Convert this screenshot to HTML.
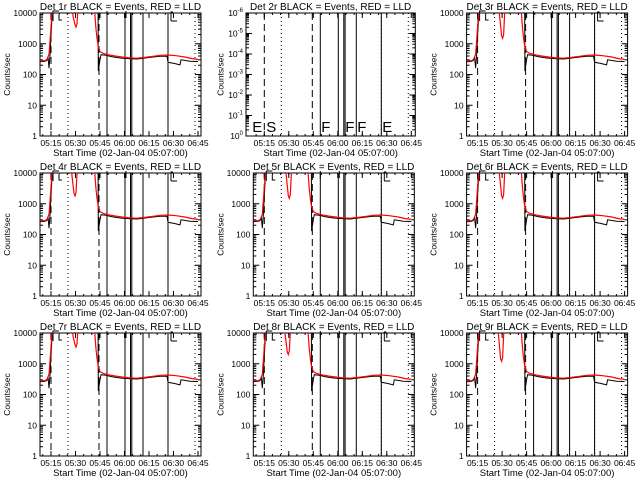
<!DOCTYPE html>
<html><head><meta charset="utf-8"><style>
html,body{margin:0;padding:0;background:#fff;width:640px;height:480px;overflow:hidden}
svg{display:block}
text{font-family:"Liberation Sans",sans-serif;fill:#000}
</style></head><body>
<svg id="s" width="640" height="480" xmlns="http://www.w3.org/2000/svg"></svg>
<script>
const S=document.getElementById('s');let h='';
const dips=[[36,3500],null,[36,1500],[35,1800],[36,1500],[36,1500],[36,3500],[35,2000],[35,1200]];
const vlines=[[11,'d'],[28,'o'],[59,'d'],[67,'s'],[85,'s'],[90.5,'s'],[91.8,'s'],[103,'s'],[128,'s'],[128,'o'],[155,'o']];
const ticks=['05:15','05:30','05:45','06:00','06:15','06:30','06:45'];
for(let p=0;p<9;p++){
 const c=p%3,r=Math.floor(p/3);
 const base=40+213.3*c, T=13+160*r, B=136+160*r;
 const L=(p==1)?246:base, R=base+161+(p==1?1:0);
 const X=o=>base+o;
 const H=B-T;
 h+=`<clipPath id="c${p}"><rect x="${L}" y="${T}" width="${R-L}" height="${H}"/></clipPath>`;
 h+=`<text x="${(L+R)/2}" y="${T-3}" font-size="10" text-anchor="middle">Det ${p+1}r BLACK = Events, RED = LLD</text>`;
 h+=`<rect x="${L}" y="${T}" width="${R-L}" height="${H}" fill="none" stroke="#000" stroke-width="1"/>`;
 for(let i=0;i<7;i++){const x=X(11+24.5*i);
  h+=`<line x1="${x}" y1="${B}" x2="${x}" y2="${B-5}" stroke="#000"/><line x1="${x}" y1="${T}" x2="${x}" y2="${T+5}" stroke="#000"/>`;
  h+=`<text x="${x}" y="${B+10}" font-size="8.5" text-anchor="middle">${ticks[i]}</text>`;}
 for(let i=0;i<19;i++){const x=X(11+24.5*(i/3)-8.2);if(x>L&&x<R)h+=`<line x1="${x}" y1="${B}" x2="${x}" y2="${B-2}" stroke="#000"/><line x1="${x}" y1="${T}" x2="${x}" y2="${T+2}" stroke="#000"/>`;}
 h+=`<text x="${(L+R)/2}" y="${B+20}" font-size="9.5" text-anchor="middle">Start Time (02-Jan-04 05:07:00)</text>`;
 h+=`<text transform="translate(${base-30},${(T+B)/2}) rotate(-90)" font-size="8.5" text-anchor="middle">Counts/sec</text>`;
 const nd=(p==1)?6:4, dh=H/nd;
 for(let d=0;d<=nd;d++){const y=B-d*dh;
  h+=`<line x1="${L}" y1="${y}" x2="${L+6}" y2="${y}" stroke="#000"/><line x1="${R}" y1="${y}" x2="${R-6}" y2="${y}" stroke="#000"/>`;
  if(p==1){h+=`<text x="${L-3}" y="${y+3}" font-size="8.5" text-anchor="end">10<tspan dy="-4" font-size="6">${d==0?'0':'-'+d}</tspan></text>`;}
  else h+=`<text x="${L-3}" y="${y+3}" font-size="8.5" text-anchor="end">${Math.pow(10,d)}</text>`;
  if(d<nd)for(let m=2;m<10;m++){const yy=y-Math.log10(m)*dh;h+=`<line x1="${L}" y1="${yy}" x2="${L+3}" y2="${yy}" stroke="#000"/><line x1="${R}" y1="${yy}" x2="${R-3}" y2="${yy}" stroke="#000"/>`;}
 }
 for(const [o,t] of vlines){const x=X(o);
  const da=t=='d'?'stroke-dasharray="7,4"':t=='o'?'stroke-dasharray="1,3"':'';
  h+=`<line x1="${x}" y1="${T}" x2="${x}" y2="${B}" stroke="#000" stroke-width="1" ${da}/>`;}
 if(p==1){
  [['E',-1],['S',13],['F',68],['F',92],['F',104],['E',129]].forEach(([t,o])=>{h+=`<text x="${X(o)}" y="${B-4}" font-size="15">${t}</text>`;});
  continue;
 }
 h+=`<path d="M${X(13)} ${T+8}V${T-2}H${X(19)}M${X(22)} ${T+7}H${X(19)}V${T+2}M${X(67)} ${T+6}V${T-2}M${X(86)} ${T+5}V${T-2}M${X(131)} ${T+8}V${T-1}H${X(133)}M${X(131)} ${T+8}H${X(137)}" stroke="#000" fill="none"/>`;
 const Y=v=>B-Math.log10(v)*dh;
 const dp=dips[p];
 const red=[[0,280],[5,280],[7,310],[9,450],[10,1200],[11,3500],[12,9000],[13,40000],[dp[0]-5,40000],[dp[0]-3,8000],[dp[0]-1,dp[1]*1.2],[dp[0],dp[1]],[dp[0]+1,dp[1]*1.3],[dp[0]+3,40000],[54,40000],[55,8000],[56,3000],[57,1500],[58,900],[60,560],[63,490],[68,440],[75,400],[82,370],[90,345],[97,340],[105,360],[113,390],[120,420],[128,430],[136,410],[145,370],[152,330],[158,310]];
 const blk=[[0,260],[5,270],[7,290],[8,380],[9,160],[10,420],[11,1800],[12,7000],[13,40000],[58,40000],[58.3,130],[60,300],[61,440],[66,420],[72,380],[80,345],[90,325],[97,320],[105,345],[113,370],[120,390],[127,395],[128,250],[134,230],[140,205],[141,300],[150,270],[158,265]];
 const pl=a=>a.map(([o,v])=>`${X(o).toFixed(1)},${Y(v).toFixed(1)}`).join(' ');
 h+=`<g clip-path="url(#c${p})"><polyline points="${pl(blk)}" fill="none" stroke="#000" stroke-width="1"/>`;
 h+=`<polyline points="${pl(red)}" fill="none" stroke="#f00" stroke-width="1.2"/></g>`;
}
S.innerHTML=h;
</script>
</body></html>
